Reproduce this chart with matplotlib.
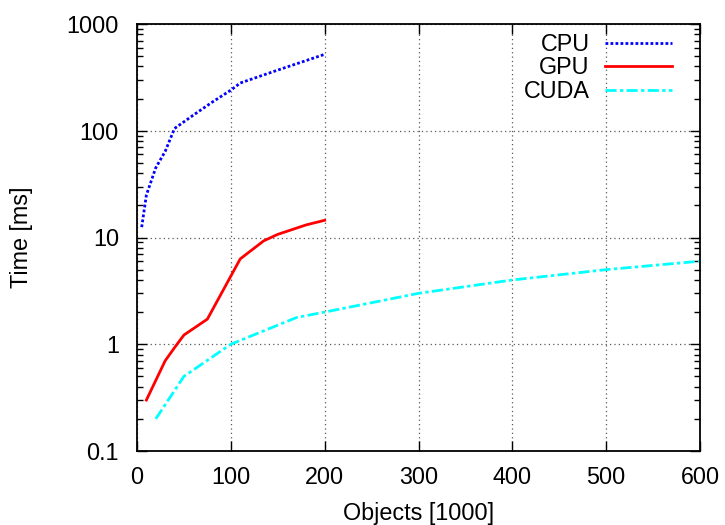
import matplotlib
matplotlib.use("Agg")
import matplotlib.pyplot as plt
from matplotlib.ticker import FixedLocator, NullFormatter, LogLocator

plt.rcParams['font.family'] = ['Liberation Sans', 'DejaVu Sans']

# Data
cpu_x = [5, 10, 20, 30, 40, 60, 80, 100, 110, 150, 200]
cpu_y = [12.5, 25, 45, 64, 105, 140, 185, 240, 280, 370, 520]

gpu_x = [10, 30, 40, 50, 75, 110, 135, 150, 180, 200]
gpu_y = [0.3, 0.7, 0.93, 1.22, 1.72, 6.3, 9.3, 10.7, 13.1, 14.5]

cuda_x = [20, 50, 100, 170, 200, 300, 400, 500, 600]
cuda_y = [0.2, 0.5, 1.0, 1.78, 2.0, 3.0, 4.0, 5.0, 6.0]

x_ticks = [0, 100, 200, 300, 400, 500, 600]
y_ticks = [0.1, 1, 10, 100, 1000]
y_tick_labels = ["0.1", "1", "10", "100", "1000"]

fig = plt.figure(figsize=(7.25, 5.25), dpi=100)
ax = fig.add_axes([137/725, 1-451/525, (700-137)/725, (451-24)/525])

fs = 16.8
ax.plot(cpu_x, cpu_y, color="#0000ff", lw=2.0, linestyle=(0, (1, 0.8)), label="CPU")
ax.plot(gpu_x, gpu_y, color="#ff0000", lw=2.0, linestyle="-", label="GPU")
ax.plot(cuda_x, cuda_y, color="#00ffff", lw=2.0, linestyle=(0, (4, 1.2, 1.2, 1.2)), label="CUDA")

ax.set_yscale("log")
ax.set_xlim(0, 600)
ax.set_ylim(0.1, 1000)
ax.xaxis.set_major_locator(FixedLocator(x_ticks))
ax.yaxis.set_major_locator(FixedLocator(y_ticks))
ax.set_yticklabels(y_tick_labels)
ax.yaxis.set_minor_locator(LogLocator(base=10, subs=range(2, 10)))
ax.yaxis.set_minor_formatter(NullFormatter())

ax.tick_params(which="both", direction="in", top=True, right=True, labelsize=fs, colors="black")
ax.tick_params(which="major", length=7, width=1)
ax.tick_params(which="minor", length=4, width=1)
ax.tick_params(axis="x", which="major", pad=11)
ax.tick_params(axis="y", which="major", pad=13)
for s in ax.spines.values():
    s.set_linewidth(1.3)

ax.grid(True, which="major", color="0.35", linestyle=(0, (1, 2.5)), lw=0.9)

ax.set_xlabel("Objects [1000]", fontsize=fs, labelpad=9)
ax.set_ylabel("Time [ms]", fontsize=fs, labelpad=24)

leg = ax.legend(loc="upper right", frameon=False, markerfirst=False, fontsize=fs,
                handlelength=2.9, handletextpad=0.65, labelspacing=0.02,
                borderaxespad=0.2, bbox_to_anchor=(0.976, 1.012))

fig.savefig("out.png", dpi=100)
